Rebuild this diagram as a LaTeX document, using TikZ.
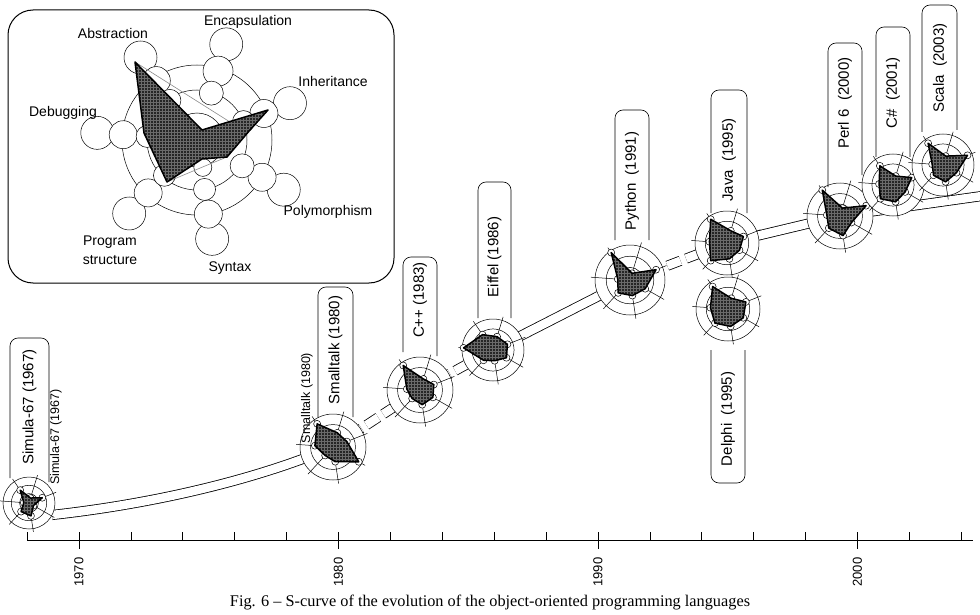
\documentclass[tikz,border=0pt]{standalone}
\usepackage{fontspec}
\setmainfont{Liberation Serif}
\newfontfamily\lsans{Liberation Sans}
\usetikzlibrary{patterns}
\tikzset{
  rgring/.style={draw, line width=0.5pt},
  rgdot/.style={draw, line width=0.5pt, fill=white},
  scurve/.style={draw, line width=0.8pt, double=white, double distance=8.5pt},
  scurvedash/.style={scurve, dash pattern=on 14pt off 6pt},
  lblbox/.style={draw, line width=0.6pt, rounded corners=8pt},
  lbltext/.style={font=\lsans\fontsize{15}{15}\selectfont, rotate=90, inner sep=0pt},
  smalltext/.style={font=\lsans\fontsize{12.5}{13}\selectfont, rotate=90, inner sep=0pt},
  insettext/.style={font=\lsans\fontsize{14}{16}\selectfont, inner sep=0pt},
  axislbl/.style={font=\lsans\fontsize{13}{13}\selectfont, rotate=90, inner sep=0pt},
  axisline/.style={draw, line width=0.8pt},
  polyfill/.style={fill=black!85},
  polygrid/.style={pattern=grid, pattern color=black!58},
  polyline/.style={draw, line width=1.5pt, line join=round}
}
\newcommand\rglyph[3]{%
  \begin{scope}[shift={(#1)}]
    \fill[white] (0,0) circle (#2 pt);
    \draw[rgring] (0,0) circle (#2 pt) (0,0) circle ({0.68*#2 pt}) (0,0) circle ({0.36*#2 pt});
    \foreach \a in {73,21.6,-29.8,-81.3,-132.7,175.9,124.4}
      \draw[rgring] (0,0) -- (\a:{1.12*#2 pt});
    \foreach \v [count=\i] in {#3}
      \coordinate (q\i) at ({73-(\i-1)*51.43}:{\v*#2 pt});
    \foreach \i in {1,...,7} \draw[rgdot] (q\i) circle (3.5pt);
    \fill[polyfill] (q1)--(q2)--(q3)--(q4)--(q5)--(q6)--(q7)--cycle;
    \fill[polygrid] (q1)--(q2)--(q3)--(q4)--(q5)--(q6)--(q7)--cycle;
    \draw[polyline] (q1)--(q2)--(q3)--(q4)--(q5)--(q6)--(q7)--cycle;
  \end{scope}}
\begin{document}
\begin{tikzpicture}[x=1pt,y=-1pt]
\useasboundingbox (0,0) rectangle (980,615);
\fill[white] (0,0) rectangle (980,615);

% glyph centres
\coordinate (gSim) at (29,503);
\coordinate (gSma) at (333,447);
\coordinate (gCpp) at (420,390);
\coordinate (gEif) at (493,350);
\coordinate (gPyt) at (630,280);
\coordinate (gJav) at (727,243);
\coordinate (gDel) at (728,309);
\coordinate (gPer) at (840,216);
\coordinate (gCsh) at (893,185);
\coordinate (gSca) at (943,165);
\coordinate (cStart) at (52,515);
\coordinate (cEnd) at (982,196);

% S-curve
\draw[scurve] (cStart) .. controls (160,503) and (260,478) .. (gSma);
\draw[scurvedash] (gSma) -- (gCpp);
\draw[scurvedash] (gCpp) -- (gEif);
\draw[scurve] (gEif) -- (gPyt);
\draw[scurvedash] (gPyt) -- (gJav);
\draw[scurve] (gJav) -- (gPer);
\draw[scurve] (gPer) -- (cEnd);

% glyphs (order: Enc, Inh, Poly, Syn, Prog, Deb, Abstr)
\rglyph{gSim}{26}{0.2,0.55,0.2,0.5,0.45,0.2,0.6}
\rglyph{gSma}{33}{0.45,0.45,0.9,0.45,0.35,0.55,0.85}
\rglyph{gCpp}{33}{0.35,0.45,0.45,0.45,0.35,0.4,0.9}
\rglyph{gEif}{31}{0.45,0.5,0.5,0.35,0.45,0.95,0.6}
\rglyph{gPyt}{35}{0.2,0.8,0.5,0.45,0.5,0.35,0.95}
\rglyph{gJav}{32}{0.4,0.55,0.45,0.5,0.75,0.55,0.9}
\rglyph{gDel}{32}{0.35,0.6,0.55,0.55,0.6,0.55,0.85}
\rglyph{gPer}{33}{0.25,0.85,0.4,0.6,0.5,0.4,0.95}
\rglyph{gCsh}{31}{0.3,0.65,0.45,0.55,0.6,0.45,0.75}
\rglyph{gSca}{31}{0.3,0.85,0.5,0.55,0.45,0.35,0.85}

% label boxes
\draw[lblbox] (10,478) -- (10,338) -- (49,338) -- (49,482);
\draw[lblbox] (318,417) -- (318,287) -- (353,287) -- (353,417);
\draw[lblbox] (403,352) -- (403,257) -- (437,257) -- (437,356);
\draw[lblbox] (478,318) -- (478,182) -- (511,182) -- (511,318);
\draw[lblbox] (615,240) -- (615,110) -- (649,110) -- (649,240);
\draw[lblbox] (711,213) -- (711,90) -- (747,90) -- (747,213);
\draw[lblbox] (711,350) -- (711,483) -- (745,483) -- (745,350);
\draw[lblbox] (828,187) -- (828,43) -- (862,43) -- (862,175);
\draw[lblbox] (876,157) -- (876,27) -- (910,27) -- (910,157);
\draw[lblbox] (922,132) -- (922,5) -- (957,5) -- (957,130);

% label texts
\node[lbltext] (tSim) at (29.5,407) {Simula-67 (1967)};
\node[smalltext] (tSim2) at (56,437) {Simula-67 (1967)};
\node[lbltext] (tSma) at (335.5,350) {Smalltalk (1980)};
\node[smalltext] (tSma2) at (307,398) {Smalltalk (1980)};
\node[lbltext] (tCpp) at (420,300) {C++ (1983)};
\node[lbltext] (tEif) at (494.5,257) {Eiffel (1986)};
\node[lbltext] (tPyt) at (632,181) {Python~~(1991)};
\node[lbltext] (tJav) at (729,160) {Java~~(1995)};
\node[lbltext] (tDel) at (728,419) {Delphi~~(1995)};
\node[lbltext] (tPer) at (845,103) {Perl 6~~(2000)};
\node[lbltext] (tCsh) at (893,93) {C\#~~(2001)};
\node[lbltext] (tSca) at (940,68) {Scala~~(2003)};

% inset
\node[draw, line width=1pt, rounded corners=25pt, minimum width=386pt, minimum height=273pt, inner sep=0pt] (inset) at (201,146.5) {};
\coordinate (ic) at (197,140);
\draw[rgring] (ic) circle (27pt) (ic) circle (50pt) (ic) circle (75pt);
\foreach \a/\d/\r in {73/100/16.5, 21.6/100/16.5, -29.8/100/16.5, -81.3/100/16.5, -132.7/100/16.5, 175.9/100/16.5, 124.4/100/16.5,
  73/72/15, 21.6/72/14, -29.8/75/14, -81.3/75/14, -132.7/72/14, 175.9/74/14, 124.4/72/14,
  73/49/12, 21.6/50/11, -29.8/52/12, -81.3/50/11, -132.7/48/11, 175.9/50/11, 124.4/48/11,
  -78/28/9}
  \draw[rgdot, shift={(ic)}] (\a:\d pt) circle (\r pt);
\coordinate (i1) at (135,62);
\coordinate (i2) at (202,130);
\coordinate (i3) at (268,110);
\coordinate (i4) at (250,130);
\coordinate (i5) at (227,157);
\coordinate (i6) at (202,159);
\coordinate (i7) at (167,182);
\coordinate (i8) at (144,133);
\fill[polyfill] (i1)--(i2)--(i3)--(i4)--(i5)--(i6)--(i7)--(i8)--cycle;
\fill[polygrid] (i1)--(i2)--(i3)--(i4)--(i5)--(i6)--(i7)--(i8)--cycle;
\draw[black!45, line width=0.6pt] (i1) -- (230,122) -- (i3);
\draw[black!45, line width=0.6pt] (i7) -- (205,166) -- (i5);
\draw[polyline] (i1)--(i2)--(i3)--(i4)--(i5)--(i6)--(i7)--(i8)--cycle;
\node[insettext] (lAbs) at (113,33) {Abstraction};
\node[insettext] (lEnc) at (248,22) {Encapsulation};
\node[insettext] (lInh) at (333,81) {Inheritance};
\node[insettext] (lDeb) at (63,113) {Debugging};
\node[insettext] (lPol) at (328,212) {Polymorphism};
\node[insettext] (lPro) at (110,242) {Program};
\node[insettext] (lStr) at (110,260) {structure};
\node[insettext] (lSyn) at (230,268) {Syntax};

% axis
\draw[axisline] (27,540) -- (973,540);
\foreach \yr in {1968,1970,...,2004}
  \draw[axisline] ({79+(\yr-1970)*25.95},540) -- ++(0,-8);
\foreach \yr in {1970,1980,1990,2000} {
  \draw[axisline] ({79+(\yr-1970)*25.95},540) -- ++(0,9);
  \node[axislbl] (y\yr) at ({79+(\yr-1970)*25.95},572) {\yr};
}

% caption
\node[font=\fontsize{16.3}{18}\selectfont, inner sep=0pt] (caption) at (490,603) {Fig. 6 -- S-curve of the evolution of the object-oriented programming languages};
\end{tikzpicture}
\end{document}
